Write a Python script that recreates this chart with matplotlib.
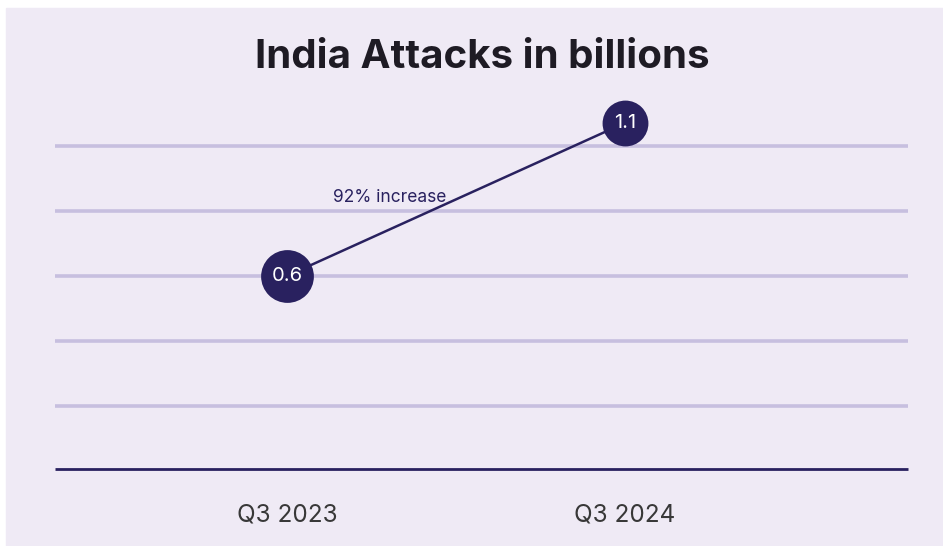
import matplotlib.pyplot as plt
from matplotlib.transforms import blended_transform_factory

quarters = ["Q3 2023", "Q3 2024"]
attacks = [0.6, 1.1]
value_labels = ["0.6", "1.1"]
change_label = "92% increase"

navy = "#29215f"
grid_col = "#c7bfdf"
bg = "#efeaf5"

plt.rcParams["font.family"] = ["Inter", "DejaVu Sans"]

fig = plt.figure(figsize=(9.43, 5.46), dpi=100, facecolor="white")
# lavender panel, with a thin white strip on the top and left
panel = plt.Rectangle((6 / 943, 0), 1, (546 - 8) / 546,
                      transform=fig.transFigure, color=bg, zorder=-10)
fig.add_artist(panel)

ax = fig.add_axes([55 / 943, 77 / 546, 853 / 943, 369 / 546])
ax.set_zorder(5)
ax.set_facecolor("none")

ax.set_xlim(-0.686, 1.838)
ax.set_ylim(-0.0307, 1.175)

# horizontal guide lines
tr = blended_transform_factory(ax.transAxes, ax.transAxes)
for h in [63, 128, 193, 258, 323]:
    ax.plot([0, 1], [h / 369, h / 369], color=grid_col, lw=2.6,
            transform=tr, zorder=1, solid_capstyle="butt")
ax.plot([0, 1], [0, 0], color=navy, lw=2, transform=tr, zorder=1,
        solid_capstyle="butt", clip_on=False)

x = list(range(len(quarters)))
ax.plot(x, attacks, color=navy, lw=1.8, zorder=2)
sizes = [38, 33]
for xi, yi, lab, s in zip(x, attacks, value_labels, sizes):
    ax.plot(xi, yi, "o", ms=s, color=navy, mec="none", zorder=3,
            clip_on=False)
    ax.text(xi, yi, lab, color="white", fontsize=14.5, ha="center",
            va="center", zorder=4)

ax.text(0.305, 0.858, change_label, color=navy, fontsize=12.5, ha="center",
        va="center")

ax.set_xticks(x)
ax.set_xticklabels(quarters, fontsize=17.5, color="#383838")
ax.tick_params(axis="x", length=0, pad=25)
ax.set_yticks([])
for sp in ax.spines.values():
    sp.set_visible(False)

fig.text(482 / 943, 1 - 58 / 546, "India Attacks in billions", fontsize=29,
         fontweight="bold", color="#1e1b24", ha="center", va="center")

fig.savefig("out.png", dpi=100, facecolor=fig.get_facecolor())
